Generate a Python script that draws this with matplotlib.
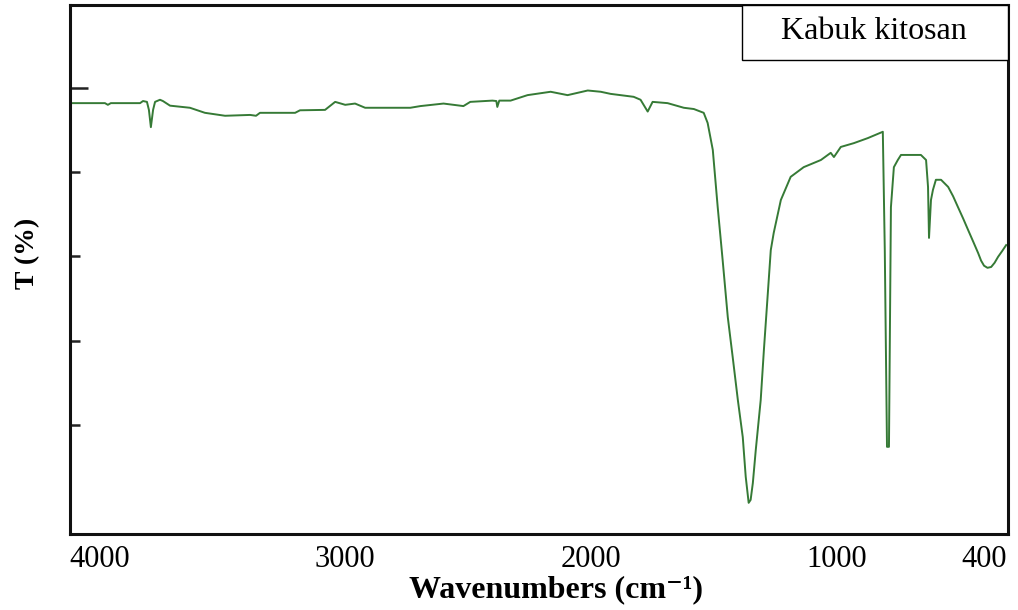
import matplotlib
matplotlib.use("Agg")
import matplotlib.pyplot as plt
from matplotlib.patches import Rectangle

# FTIR spectrum (wavenumber in cm-1, transmittance in %)
wavenumber = [4118, 3977, 3965, 3953, 3834, 3822, 3806, 3798, 3790, 3781,
              3773, 3753, 3741, 3712, 3631, 3570, 3488, 3386, 3362, 3346,
              3203, 3183, 3081, 3040, 2999, 2959, 2918, 2734, 2693, 2599,
              2518, 2490, 2400, 2384, 2380, 2372, 2326, 2257, 2163, 2094,
              2012, 1959, 1919, 1825, 1797, 1768, 1748, 1687, 1621, 1580,
              1540, 1524, 1503, 1483, 1463, 1442, 1422, 1401, 1381, 1369,
              1357, 1349, 1340, 1328, 1308, 1295, 1279, 1267, 1255, 1226,
              1186, 1133, 1063, 1023, 1010, 982, 929, 872, 811, 803,
              794, 786, 778, 766, 750, 737, 656, 635, 627, 623,
              615, 607, 595, 574, 545, 525, 505, 484, 464, 443,
              423, 411, 399, 385, 370, 356, 342, 325, 309]
transmittance = [76.4, 76.4, 76.0, 76.4, 76.4, 76.9, 76.7, 74.8, 70.7, 74.8,
                 76.7, 77.2, 76.9, 75.8, 75.3, 74.1, 73.4, 73.6, 73.4, 74.1,
                 74.1, 74.7, 74.8, 76.7, 76.0, 76.3, 75.3, 75.3, 75.7, 76.3,
                 75.7, 76.7, 77.0, 76.9, 75.5, 77.0, 77.0, 78.3, 79.1, 78.3,
                 79.4, 79.1, 78.6, 77.9, 77.2, 74.4, 76.7, 76.4, 75.3, 75.0,
                 74.1, 71.7, 65.3, 51.7, 39.2, 25.6, 16.1, 5.9, -2.9, -12.3,
                 -18.5, -17.8, -13.8, -5.9, 5.9, 17.8, 31.3, 41.5, 45.6, 53.4,
                 58.9, 61.2, 62.9, 64.6, 63.6, 66.0, 66.9, 68.1, 69.6, 41.5,
                 -5.2, -5.2, 51.7, 61.2, 62.9, 64.1, 64.1, 62.9, 56.5, 44.4,
                 53.4, 55.8, 58.2, 58.2, 56.5, 54.3, 51.7, 49.0, 46.3, 43.5,
                 40.8, 39.0, 37.8, 37.3, 37.5, 38.5, 39.9, 41.3, 42.7]

x_ticks = [4000, 3000, 2000, 1000, 400]
x_ticklabels = ["4000", "3000", "2000", "1000", "400"]
y_ticks = [0, 20, 40, 60]
y_top_tick = [80]
sample_label = "Kabuk kitosan"

SERIF = ["Liberation Serif", "DejaVu Serif"]

fig = plt.figure(figsize=(10.18, 6.10), dpi=100)
ax = fig.add_axes([0.0688, 0.1246, 0.9215, 0.8672])

ax.plot(wavenumber, transmittance, color="#367a36", lw=1.4)

ax.set_xlim(4119, 301)
ax.set_ylim(-25.9, 99.7)

ax.set_xticks(x_ticks)
ax.set_xticklabels(x_ticklabels, fontsize=22, family=SERIF)
ax.tick_params(axis="x", length=0, pad=8)
ax.set_yticks(y_ticks)
ax.set_yticks(y_top_tick, minor=True)
ax.set_yticklabels([])
ax.tick_params(axis="y", which="major", direction="in", length=7, width=1.8, color="#222")
ax.tick_params(axis="y", which="minor", direction="in", length=13, width=1.8, color="#222")

for sp in ax.spines.values():
    sp.set_linewidth(2.2)
    sp.set_color("#111")

ax.set_xlabel("Wavenumbers (cm⁻¹)", fontsize=23, fontweight="bold",
              family=SERIF, va="center")
ax.xaxis.set_label_coords(0.518, -0.106)
ax.set_ylabel("T (%)", fontsize=20, fontweight="bold", family=SERIF, va="center")
ax.yaxis.set_label_coords(-0.0448, 0.531)

# sample name box in the top right corner
ax.add_patch(Rectangle((0.716, 0.896), 0.284, 0.104, transform=ax.transAxes,
                       fill=True, fc="white", ec="black", lw=1.0, zorder=5,
                       clip_on=False))
ax.text(0.857, 0.949, sample_label, transform=ax.transAxes, ha="center",
        va="center", fontsize=23, family=SERIF, zorder=6)

fig.savefig("out.png", dpi=100)
